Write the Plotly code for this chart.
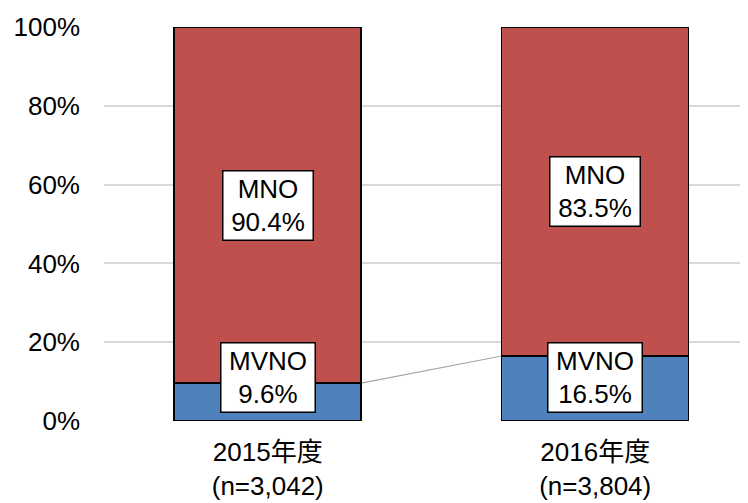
import plotly.graph_objects as go

# data
categories = ["2015年度<br>(n=3,042)", "2016年度<br>(n=3,804)"]
mvno_share = [9.6, 16.5]
mno_share = [90.4, 83.5]
y_ticks = [0, 20, 40, 60, 80, 100]

FONT = "Arial, 'Liberation Sans', 'Noto Sans CJK JP', sans-serif"
BAR_W = 0.571
BLUE = "#4F81BD"
RED = "#C0504D"

fig = go.Figure()
fig.add_trace(go.Bar(x=[0, 1], y=mvno_share, name="MVNO", width=BAR_W,
                     marker=dict(color=BLUE, line=dict(color="black", width=1.5))))
fig.add_trace(go.Bar(x=[0, 1], y=mno_share, name="MNO", width=BAR_W,
                     marker=dict(color=RED, line=dict(color="black", width=1.5))))

# series line between the MVNO tops
fig.add_shape(type="line", xref="x", yref="y",
              x0=BAR_W / 2, y0=mvno_share[0], x1=1 - BAR_W / 2, y1=mvno_share[1],
              line=dict(color="#a6a6a6", width=1.2), layer="below")

# data labels
for i in range(len(categories)):
    fig.add_annotation(x=i, y=mvno_share[i] + mno_share[i] / 2,
                       text=f"MNO<br>{mno_share[i]:.1f}%", showarrow=False,
                       font=dict(family=FONT, size=26, color="black"),
                       bgcolor="white", bordercolor="black", borderwidth=1.5,
                       borderpad=1, width=87, height=66)
    fig.add_annotation(x=i, y=0, yanchor="bottom", yshift=8,
                       text=f"MVNO<br>{mvno_share[i]:.1f}%", showarrow=False,
                       font=dict(family=FONT, size=26, color="black"),
                       bgcolor="white", bordercolor="black", borderwidth=1.5,
                       borderpad=1, width=91, height=66)

# page body has an 8px default margin, so margins are shifted to compensate
fig.update_layout(
    width=748, height=503,
    margin=dict(l=96, r=0, t=19, b=90),
    barmode="stack", showlegend=False,
    plot_bgcolor="white", paper_bgcolor="white",
    font=dict(family=FONT, size=26, color="black"),
    xaxis=dict(tickmode="array", tickvals=[0, 1], ticktext=categories,
               range=[-0.5, 1.491], showgrid=False, zeroline=False,
               showline=False, ticks="", ticklabelstandoff=13,
               automargin=False),
    yaxis=dict(range=[0, 100], tickvals=y_ticks,
               ticktext=[f"{v}%" for v in y_ticks],
               showgrid=True, gridcolor="#d9d9d9", gridwidth=1.5,
               zeroline=False, showline=False, ticklabelstandoff=23,
               automargin=False),
)

fig.write_html("out.html")
